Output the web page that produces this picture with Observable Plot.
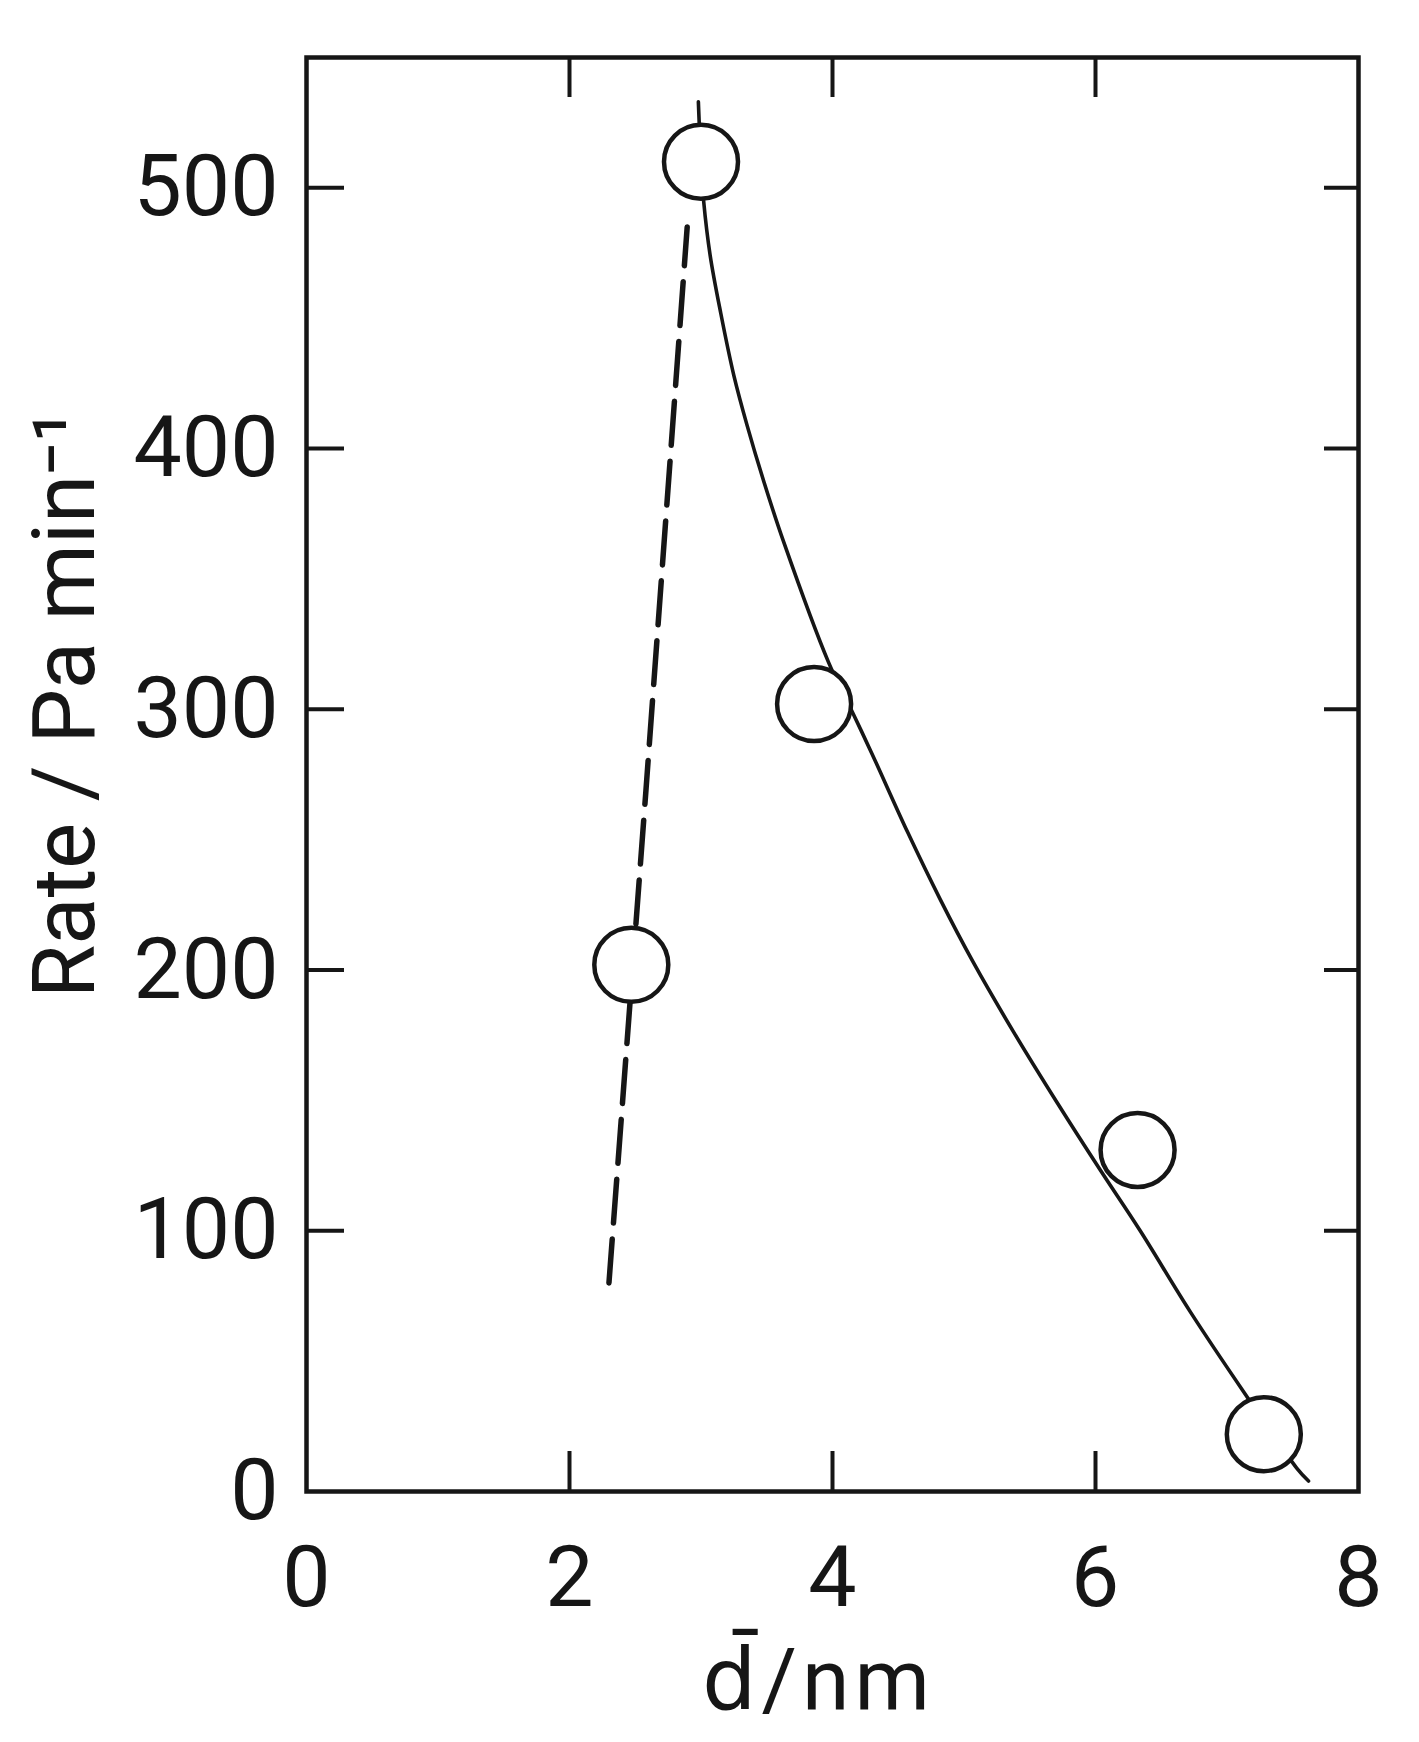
<!DOCTYPE html>
<html>
<head>
<meta charset="utf-8">
<script src="https://cdn.jsdelivr.net/npm/d3@7"></script>
<script src="https://cdn.jsdelivr.net/npm/@observablehq/plot@0.6"></script>
<style>
  body { margin: 0; background: #fff; }
  #chart svg { display: block; }
</style>
</head>
<body>
<div id="chart"></div>
<script>
// Measured points (mean size d / nm, rate / Pa min^-1)
const pointD = [2.47, 3.0, 3.86, 6.32, 7.28];
const pointRate = [202, 510, 302, 131, 22];

// Solid curve
const solidD = [2.98, 3.0, 3.02, 3.07, 3.15, 3.25, 3.35, 3.48, 3.63, 3.97, 4.16, 4.30, 4.57, 4.82, 5.07, 5.38, 5.71, 6.04, 6.34, 6.72, 7.13, 7.53, 7.62];
const solidRate = [533, 510, 495, 474, 452, 428, 409, 387, 364, 318, 298, 283, 253, 227, 203, 176, 149, 123, 100, 69, 38, 9, 4];

// Dashed curve
const dashD = [2.30, 2.58, 2.895];
const dashRate = [80, 268, 485];

// Axis ticks
const xTicks = [0, 2, 4, 6, 8];
const yTicks = [0, 100, 200, 300, 400, 500];
const xInnerTicks = [2, 4, 6];
const yInnerTicks = [100, 200, 300, 400, 500];

const xLabel = "d\u0304/nm";
const yLabel = "Rate / Pa min\u207B\u00B9";

const W = 1419, H = 1742;
const mL = 306, mR = 61, mT = 57, mB = 251;
const plotW = W - mL - mR, plotH = H - mT - mB;
const tickLen = 40;
const ink = "#161616";
const font = "Roboto, 'DejaVu Sans', sans-serif";

const points = pointD.map((d, i) => ({d, rate: pointRate[i]}));
const solid = solidD.map((d, i) => ({d, rate: solidRate[i]}));
const dashed = dashD.map((d, i) => ({d, rate: dashRate[i]}));

const chart = Plot.plot({
  width: W,
  height: H,
  marginLeft: mL,
  marginRight: mR,
  marginTop: mT,
  marginBottom: mB,
  style: {fontFamily: font, fontWeight: 400, color: ink, background: "#fff"},
  x: {domain: [0, 8]},
  y: {domain: [0, 550]},
  marks: [
    // tick labels (tick marks drawn inward separately)
    Plot.axisX({ticks: xTicks, tickSize: 0, tickPadding: 53, fontSize: 86, label: null, fill: ink}),
    Plot.axisY({ticks: yTicks, tickSize: 0, tickPadding: 28, fontSize: 86, label: null, fill: ink}),
    // inward ticks on all four sides
    Plot.tickX(xInnerTicks, {x: d => d, insetTop: plotH - tickLen, stroke: ink, strokeWidth: 4}),
    Plot.tickX(xInnerTicks, {x: d => d, insetBottom: plotH - tickLen, stroke: ink, strokeWidth: 4}),
    Plot.tickY(yInnerTicks, {y: d => d, insetRight: plotW - 38, stroke: ink, strokeWidth: 4}),
    Plot.tickY(yInnerTicks, {y: d => d, insetLeft: plotW - 34, stroke: ink, strokeWidth: 4}),
    Plot.frame({stroke: ink, strokeWidth: 4.5}),
    // curves
    Plot.line(dashed, {x: "d", y: "rate", stroke: ink, strokeWidth: 5.5, strokeDasharray: "44,16", curve: "linear"}),
    Plot.line(solid, {x: "d", y: "rate", stroke: ink, strokeWidth: 3.6, curve: "catmull-rom"}),
    // data circles (filled white, drawn on top)
    Plot.dot(points, {x: "d", y: "rate", r: 37, fill: "#fff", stroke: ink, strokeWidth: 4.5}),
    // axis titles
    Plot.text([xLabel], {frameAnchor: "bottom", dx: -14, dy: 190, fontSize: 86, fill: ink, lineAnchor: "middle", textAnchor: "middle", fontFamily: font}),
    Plot.text([yLabel], {frameAnchor: "left", dx: -240, dy: -70, rotate: -90, fontSize: 87, fill: ink, lineAnchor: "middle", textAnchor: "middle", fontFamily: font})
  ]
});

// widen the x title's letter spacing slightly, as in the original lettering
d3.select(chart).selectAll("text").filter(function() { return this.textContent === xLabel; })
  .style("letter-spacing", "5px");

document.getElementById("chart").appendChild(chart);
</script>
</body>
</html>
